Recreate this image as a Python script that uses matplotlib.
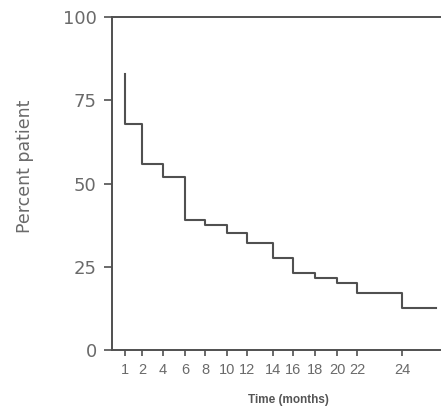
import numpy as np
import matplotlib
matplotlib.use("Agg")
import matplotlib.pyplot as plt

# survival curve (months, percent)
times = [1, 1, 2, 4, 6, 8, 10, 12, 14, 16, 18, 20, 22, 24, 27.5]
percent = [83, 68, 56, 52, 39, 37.5, 35, 32, 27.5, 23, 21.5, 20, 17, 12.5, 12.5]

x_ticks = [1, 2, 4, 6, 8, 10, 12, 14, 16, 18, 20, 22, 24]
y_ticks = [0, 25, 50, 75, 100]

# the printed time axis is not linear: where each month sits along it
axis_months = [0, 1, 2, 4, 6, 8, 10, 12, 14, 16, 18, 20, 22, 24, 28]
axis_slots = [0, 13, 30, 51, 73, 93, 115, 135, 161, 181, 203, 225, 245, 290, 329]


def forward(m):
    return np.interp(m, axis_months, axis_slots)


def inverse(s):
    return np.interp(s, axis_slots, axis_months)


plt.rcParams['font.family'] = ['Liberation Sans', 'DejaVu Sans']
text_col = '#6a6a6a'
line_col = '#505050'

fig = plt.figure(figsize=(4.41, 4.11), dpi=100)
ax = fig.add_axes([112 / 441, 1 - 350 / 411, 1 - 112 / 441, (350 - 17) / 411])
ax.set_xscale('function', functions=(forward, inverse))

ax.step(times, percent, where='post', color=line_col, lw=1.5)

ax.set_xlim(0, 28)
ax.set_ylim(0, 100)
ax.set_xticks(x_ticks)
ax.set_xticklabels([str(t) for t in x_ticks], fontsize=10.5, color=text_col)
ax.set_yticks(y_ticks)
ax.set_yticklabels([str(t) for t in y_ticks], fontsize=13, color=text_col,
                   family='DejaVu Sans')
ax.xaxis.set_minor_locator(matplotlib.ticker.NullLocator())

for side in ['left', 'top', 'bottom']:
    ax.spines[side].set_color(line_col)
    ax.spines[side].set_linewidth(1.4)
ax.spines['right'].set_visible(False)
ax.tick_params(axis='y', length=6, width=1.2, color=line_col, pad=5)
ax.tick_params(axis='x', length=4, width=1.2, color=line_col, pad=5)

# x axis runs a little left of the y axis
ax.plot([-0.9, 0], [0, 0], color=line_col, lw=1.4, clip_on=False)

fig.text(25 / 441, 1 - 166 / 411, 'Percent patient', rotation=90,
         ha='center', va='center', fontsize=12.5, color=text_col,
         family='DejaVu Sans')
fig.text(288 / 441, 1 - 400 / 411, 'Time (months)', ha='center',
         va='center', fontsize=8.5, color='#555555', fontweight='bold')

fig.savefig('out.png', dpi=100)
